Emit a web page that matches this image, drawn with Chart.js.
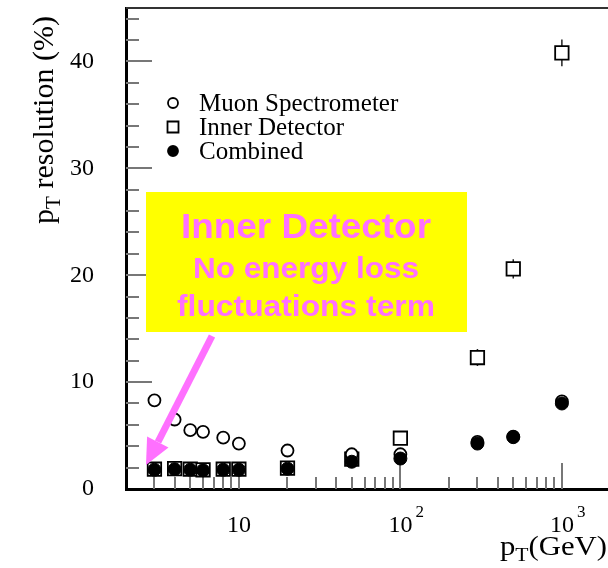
<!DOCTYPE html>
<html>
<head>
<meta charset="utf-8">
<script src="https://cdn.jsdelivr.net/npm/chart.js@4.4.1/dist/chart.umd.min.js"></script>
<style>
  html, body { margin: 0; padding: 0; background: #fff; overflow: hidden; }
  canvas { display: block; }
</style>
</head>
<body>
<canvas id="grafico" width="608" height="568"></canvas>
<script>
// pT points (GeV) and resolutions (%)
const ptValues = [3, 4, 5, 6, 8, 10, 20, 50, 100, 300, 500, 1000];
const muonRes = [8.3, 6.5, 5.5, 5.35, 4.8, 4.25, 3.6, 3.25, 3.25, 4.4, 4.9, 8.2];
const innerRes = [1.85, 1.9, 1.85, 1.8, 1.85, 1.85, 1.95, 2.8, 4.75, 12.3, 20.6, 40.8];
const innerErr = [0, 0, 0, 0, 0, 0, 0, 0, 0, 0.8, 0.9, 1.25];
const combinedRes = [1.8, 1.85, 1.8, 1.75, 1.8, 1.8, 1.9, 2.55, 2.85, 4.25, 4.85, 8.0];

const yTicks = [0, 10, 20, 30, 40];
const xTickValues = [10, 100, 1000];
const xTickBase = ['10', '10', '10'];
const xTickExp = ['', '2', '3'];
const boxLines = ['Inner Detector', 'No energy loss', 'fluctuations term'];

const pink = '#ff70ff';
const serif = '"Liberation Serif", "Times New Roman", serif';
const sans = '"Liberation Sans", Arial, sans-serif';

const pts = (ys) => ptValues.map((x, i) => ({ x: x, y: ys[i] }));

// fixed axis boxes so the frame sits where the original one does
function fixBox(s, w, h) {
    if (w !== null) s.width = w;
    if (h !== null) s.height = h;
    s.paddingTop = 0;
    s.paddingBottom = 0;
    s.paddingLeft = 0;
    s.paddingRight = 0;
}

// centred text squeezed/stretched to a given width
function fitText(ctx, txt, cx, y, width) {
    const w = ctx.measureText(txt).width;
    ctx.save();
    ctx.translate(cx, y);
    ctx.scale(width / w, 1);
    ctx.textAlign = 'center';
    ctx.fillText(txt, 0, 0);
    ctx.restore();
}

// ticks drawn inside the frame, ROOT style
const frameTicks = {
    id: 'frameTicks',
    beforeDatasetsDraw(chart) {
        const { ctx, chartArea: a, scales: { x, y } } = chart;
        ctx.save();
        ctx.strokeStyle = '#777';
        ctx.lineWidth = 2;
        ctx.beginPath();
        for (let v = 2; v <= y.max; v += 2) {
            const py = Math.round(y.getPixelForValue(v));
            const len = v % 10 === 0 ? 26 : 13;
            ctx.moveTo(a.left, py);
            ctx.lineTo(a.left + len, py);
        }
        for (let d = 1; d <= 1000; d *= 10) {
            for (let m = 1; m <= 9; m++) {
                const v = m * d;
                if (v <= x.min || v > x.max) continue;
                const px = Math.round(x.getPixelForValue(v));
                const len = m === 1 ? 26 : 12;
                ctx.moveTo(px, a.bottom);
                ctx.lineTo(px, a.bottom - len);
            }
        }
        ctx.stroke();
        // top frame line
        ctx.strokeStyle = '#333';
        ctx.beginPath();
        ctx.moveTo(a.left, a.top);
        ctx.lineTo(a.right, a.top);
        ctx.stroke();

        // error bars of the inner detector points
        ctx.strokeStyle = '#222';
        ctx.lineWidth = 1.5;
        ctx.beginPath();
        ptValues.forEach((p, i) => {
            if (!innerErr[i]) return;
            const px = x.getPixelForValue(p);
            ctx.moveTo(px, y.getPixelForValue(innerRes[i] - innerErr[i]));
            ctx.lineTo(px, y.getPixelForValue(innerRes[i] + innerErr[i]));
        });
        ctx.stroke();
        ctx.restore();
    }
};

const decorations = {
    id: 'decorations',
    afterDraw(chart) {
        const { ctx, scales: { x } } = chart;
        ctx.save();
        ctx.fillStyle = '#000';
        ctx.textBaseline = 'alphabetic';

        // x tick labels with exponents
        xTickValues.forEach((v, i) => {
            const px = x.getPixelForValue(v);
            ctx.font = '24px ' + serif;
            ctx.textAlign = 'center';
            ctx.fillText(xTickBase[i], px, 532);
            if (xTickExp[i]) {
                const w = ctx.measureText(xTickBase[i]).width;
                ctx.font = '17px ' + serif;
                ctx.textAlign = 'left';
                ctx.fillText(xTickExp[i], px + w / 2 + 3, 517);
            }
        });

        // x title, stretched to the original width
        ctx.save();
        ctx.font = '27px ' + serif;
        const wp = ctx.measureText('p').width;
        const wg = ctx.measureText('(GeV)').width;
        ctx.font = '19px ' + serif;
        const wt = ctx.measureText('T').width;
        ctx.translate(500, 555);
        ctx.scale(107 / (wp + wt + wg), 1);
        ctx.textAlign = 'left';
        ctx.font = '27px ' + serif;
        ctx.fillText('p', 0, 0);
        ctx.fillText('(GeV)', wp + wt, 0);
        ctx.font = '19px ' + serif;
        ctx.fillText('T', wp, 6);
        ctx.restore();

        // y title, rotated
        ctx.save();
        ctx.font = '30px ' + serif;
        const yp = ctx.measureText('p').width;
        const yr = ctx.measureText(' resolution (%)').width;
        ctx.font = '21px ' + serif;
        const yt = ctx.measureText('T').width;
        const total = yp + yt + yr;
        ctx.translate(53, 120 + total / 2);
        ctx.rotate(-Math.PI / 2);
        ctx.textAlign = 'left';
        ctx.font = '30px ' + serif;
        ctx.fillText('p', 0, 0);
        ctx.fillText(' resolution (%)', yp + yt, 0);
        ctx.font = '21px ' + serif;
        ctx.fillText('T', yp, 7);
        ctx.restore();

        // legend
        const rows = [103, 127, 151];
        chart.data.datasets.forEach((ds, i) => {
            const my = rows[i];
            ctx.lineWidth = 1.8;
            ctx.strokeStyle = '#000';
            ctx.fillStyle = ds.backgroundColor;
            ctx.beginPath();
            if (ds.pointStyle === 'rect') {
                ctx.rect(173 - 5.5, my - 5.5, 11, 11);
            } else {
                ctx.arc(173, my, 5, 0, Math.PI * 2);
            }
            ctx.fill();
            ctx.stroke();
            ctx.fillStyle = '#000';
            ctx.font = '25px ' + serif;
            ctx.textAlign = 'left';
            ctx.fillText(ds.label, 199, my + 8);
        });

        // yellow annotation box
        ctx.fillStyle = '#ffff00';
        ctx.fillRect(146, 192, 321, 140);
        ctx.fillStyle = pink;
        ctx.font = 'bold 35px ' + sans;
        fitText(ctx, boxLines[0], 306, 238, 250);
        ctx.font = 'bold 29px ' + sans;
        fitText(ctx, boxLines[1], 306, 278, 226);
        fitText(ctx, boxLines[2], 306, 316, 258);

        // arrow
        ctx.strokeStyle = pink;
        ctx.lineWidth = 7;
        ctx.beginPath();
        ctx.moveTo(212, 336);
        ctx.lineTo(158, 442);
        ctx.stroke();
        ctx.beginPath();
        ctx.moveTo(146, 465);
        ctx.lineTo(168.5, 447.4);
        ctx.lineTo(147.1, 436.4);
        ctx.closePath();
        ctx.fill();

        ctx.restore();
    }
};

new Chart(document.getElementById('grafico').getContext('2d'), {
    type: 'scatter',
    data: {
        datasets: [{
            label: 'Muon Spectrometer',
            data: pts(muonRes),
            pointStyle: 'circle',
            pointRadius: 6,
            borderWidth: 1.8,
            borderColor: '#000',
            backgroundColor: '#fff',
            order: 2
        }, {
            label: 'Inner Detector',
            data: pts(innerRes),
            pointStyle: 'rect',
            pointRadius: 9.5,
            borderWidth: 1.8,
            borderColor: '#000',
            backgroundColor: '#fff',
            order: 3
        }, {
            label: 'Combined',
            data: pts(combinedRes),
            pointStyle: 'circle',
            pointRadius: 6.5,
            borderWidth: 1,
            borderColor: '#000',
            backgroundColor: '#000',
            order: 1
        }]
    },
    options: {
        responsive: false,
        animation: false,
        layout: { autoPadding: false, padding: { top: 8, right: 0, left: 0, bottom: 0 } },
        plugins: {
            legend: { display: false },
            tooltip: { enabled: false }
        },
        scales: {
            x: {
                type: 'logarithmic',
                min: 2,
                max: 1930,
                grid: { display: false, drawTicks: false },
                border: { display: true, color: '#000', width: 3 },
                ticks: { display: false },
                afterFit: (s) => fixBox(s, null, 79)
            },
            y: {
                min: 0,
                max: 45,
                grid: { display: false, drawTicks: false },
                border: { display: true, color: '#000', width: 3 },
                ticks: {
                    stepSize: 10,
                    padding: 32,
                    color: '#000',
                    font: { family: serif, size: 24 },
                    callback: (v) => yTicks.includes(v) ? String(v) : null
                },
                afterFit: (s) => fixBox(s, 126, null)
            }
        }
    },
    plugins: [frameTicks, decorations]
});
</script>
</body>
</html>
